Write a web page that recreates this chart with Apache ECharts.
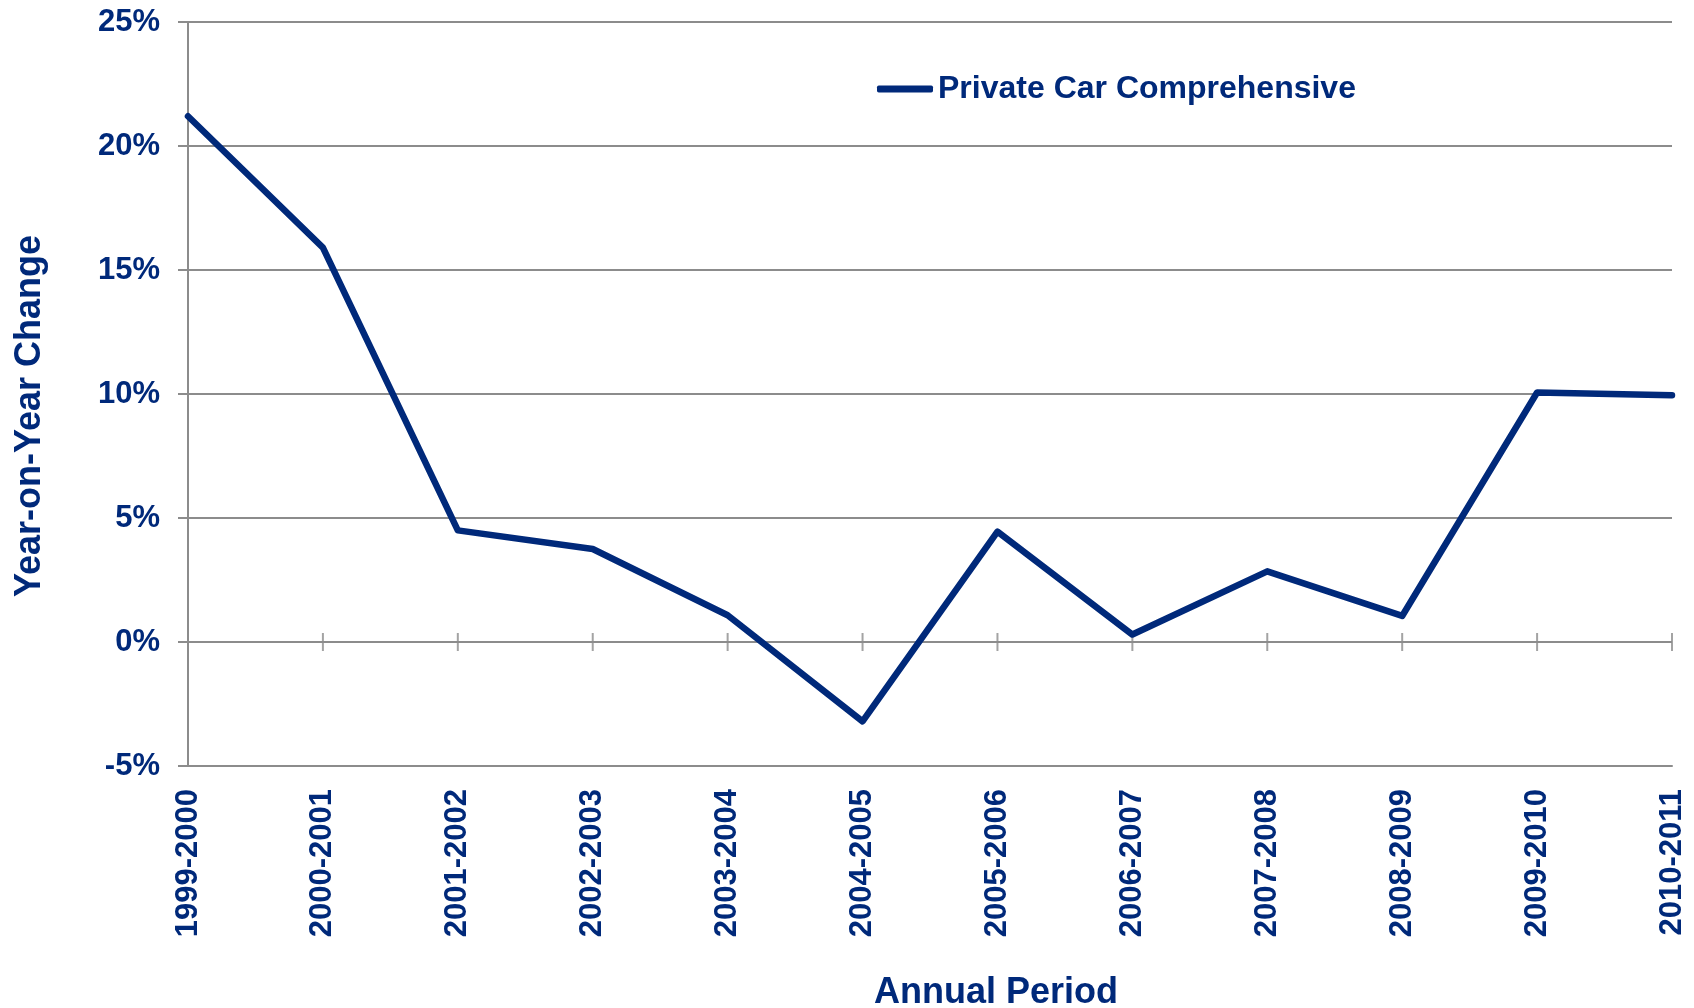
<!DOCTYPE html>
<html>
<head>
<meta charset="utf-8">
<title>Private Car Comprehensive – Year-on-Year Change</title>
<script src="https://cdn.jsdelivr.net/npm/echarts@6/dist/echarts.min.js"></script>
<style>
  html, body { margin: 0; padding: 0; background: #ffffff; }
  #chart { width: 1694px; height: 1008px; }
</style>
</head>
<body>
<div id="chart"></div>
<script>
// Annual periods on the category axis
const periods = [
  '1999-2000', '2000-2001', '2001-2002', '2002-2003', '2003-2004', '2004-2005',
  '2005-2006', '2006-2007', '2007-2008', '2008-2009', '2009-2010', '2010-2011'
];

// Year-on-year change, in percent
const privateCarComprehensive = [
  21.2, 15.9, 4.5, 3.75, 1.08, -3.2, 4.45, 0.3, 2.85, 1.05, 10.06, 9.95
];

// Value axis range and step, in percent
const yMin = -5;
const yMax = 25;
const yStep = 5;

const NAVY = '#00297a';
const GRID_GREY = '#8c8c8c';
const FONT = '"Liberation Sans", Arial, Helvetica, sans-serif';

// Cross-shaped category tick marks sit on the zero line
const zeroTicks = periods.map(() => 0);

const chart = echarts.init(document.getElementById('chart'), null, { renderer: 'canvas' });

chart.setOption({
  animation: false,
  backgroundColor: '#ffffff',
  grid: {
    left: 188,
    right: 22,
    top: 22,
    bottom: 242,
    containLabel: false,
    outerBoundsMode: 'none'
  },
  legend: {
    left: 877,
    top: 73,
    padding: 0,
    icon: 'roundRect',
    itemWidth: 56,
    itemHeight: 7,
    data: ['Private Car Comprehensive'],
    textStyle: {
      color: NAVY,
      fontFamily: FONT,
      fontWeight: 'bold',
      fontSize: 32
    }
  },
  xAxis: {
    type: 'category',
    data: periods,
    boundaryGap: false,
    position: 'bottom',
    name: 'Annual Period',
    nameLocation: 'middle',
    nameGap: 209,
    nameTextStyle: {
      color: NAVY,
      fontFamily: FONT,
      fontWeight: 'bold',
      fontSize: 36,
      lineHeight: 36,
      padding: [0, 0, 0, 132]
    },
    axisLine: {
      onZero: false,
      lineStyle: { color: GRID_GREY, width: 2 }
    },
    axisTick: { show: false },
    splitLine: { show: false },
    axisLabel: {
      rotate: 90,
      margin: 23,
      interval: 0,
      color: NAVY,
      fontFamily: FONT,
      fontWeight: 'bold',
      fontSize: 31
    }
  },
  yAxis: {
    type: 'value',
    min: yMin,
    max: yMax,
    interval: yStep,
    name: 'Year-on-Year Change',
    nameLocation: 'middle',
    nameRotate: 90,
    nameGap: 140,
    nameTextStyle: {
      color: NAVY,
      fontFamily: FONT,
      fontWeight: 'bold',
      fontSize: 36,
      lineHeight: 36,
      padding: [0, 44, 0, 0]
    },
    axisLine: {
      show: true,
      lineStyle: { color: GRID_GREY, width: 2 }
    },
    axisTick: {
      show: true,
      length: 10,
      lineStyle: { color: GRID_GREY, width: 2 }
    },
    splitLine: {
      show: true,
      lineStyle: { color: GRID_GREY, width: 2 }
    },
    axisLabel: {
      margin: 28,
      formatter: '{value}%',
      color: NAVY,
      fontFamily: FONT,
      fontWeight: 'bold',
      fontSize: 31
    }
  },
  series: [
    {
      name: 'zero-line ticks',
      type: 'scatter',
      data: zeroTicks,
      symbol: 'rect',
      symbolSize: [2, 18],
      itemStyle: { color: GRID_GREY },
      silent: true,
      z: 1
    },
    {
      name: 'Private Car Comprehensive',
      type: 'line',
      data: privateCarComprehensive,
      symbol: 'none',
      color: NAVY,
      itemStyle: { color: NAVY },
      lineStyle: {
        color: NAVY,
        width: 6.5,
        cap: 'round',
        join: 'round'
      },
      z: 3
    }
  ]
});
</script>
</body>
</html>
